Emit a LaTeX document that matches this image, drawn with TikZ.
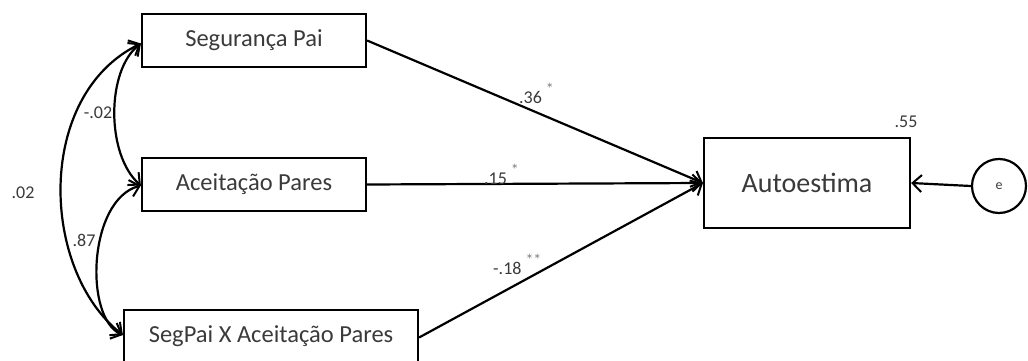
\documentclass[tikz,border=0pt]{standalone}
\usepackage{fontspec}
\setmainfont{Carlito}
\usetikzlibrary{arrows.meta}
\definecolor{txt}{HTML}{3A3A3A}
\tikzset{
  varbox/.style={draw=black, line width=2.2pt, minimum height=53pt, inner sep=0pt,
    text=txt, font=\fontsize{24.5}{28}\selectfont},
  barb/.tip={Straight Barb[length=9pt,width=17pt,line width=2pt]},
  path/.style={line width=2.2pt, -barb},
  cov/.style={line width=2.2pt, barb-barb},
  coef/.style={text=txt, font=\fontsize{18}{21}\selectfont, inner sep=0pt},
}
\newcommand{\sig}[1]{\hspace{4pt}\raisebox{9pt}{\fontsize{16}{16}\selectfont\color{gray}#1}}
\begin{document}
\begin{tikzpicture}[x=1pt, y=-1pt]
  \useasboundingbox (0,0) rectangle (1028,361);
  \begin{scope}
    \clip (0,0) rectangle (1028,361);
    % exogenous variables
    \node[varbox, minimum width=224pt] (seg) at (254,40.5) {Segurança Pai};
    \node[varbox, minimum width=224pt] (ace) at (254,184.5) {Aceitação Pares};
    \node[varbox, minimum width=294pt] (int) at (271,336.5) {SegPai X Aceitação Pares};
    % outcome and its error term
    \node[varbox, minimum width=206pt, minimum height=90pt,
          font=\fontsize{28}{32}\selectfont] (auto) at (807,183) {Autoestima};
    \node[draw=black, line width=2.2pt, circle, minimum size=54pt, inner sep=0pt,
          text=txt, font=\fontsize{14}{16}\selectfont] (e) at (999,186) {e};

    % regression paths
    \coordinate (hit) at (auto.west);
    \draw[path] (seg.east) -- (hit);
    \draw[path] (ace.east) -- (hit);
    \draw[path] ([yshift=-1pt]int.east) -- (hit);
    \draw[path] (e.west) -- (auto.east);

    % covariances
    \coordinate (sL) at ([yshift=-3pt]seg.west);
    \coordinate (aL) at ([yshift=-1pt]ace.west);
    \coordinate (iL) at ([yshift=1.5pt]int.west);
    \draw[cov] (sL) .. controls (35,95) and (40,270) .. (iL);
    \draw[cov] (sL) .. controls (106,70) and (106,155) .. (aL);
    \draw[cov] (aL) .. controls (88,200) and (84,318) .. (iL);

    % coefficients
    \node[coef] (c1) at (23,193) {.02};
    \node[coef] (c2) at (98,113) {-.02};
    \node[coef] (c3) at (84,240) {.87};
    \node[coef, anchor=west] (p1) at (519,93) {.36\sig{*}};
    \node[coef, anchor=west] (p2) at (484,174) {.15\sig{*}};
    \node[coef, anchor=west] (p3) at (493,264) {-.18\sig{**}};
    \node[coef] (r2) at (906,122) {.55};
  \end{scope}
\end{tikzpicture}
\end{document}
